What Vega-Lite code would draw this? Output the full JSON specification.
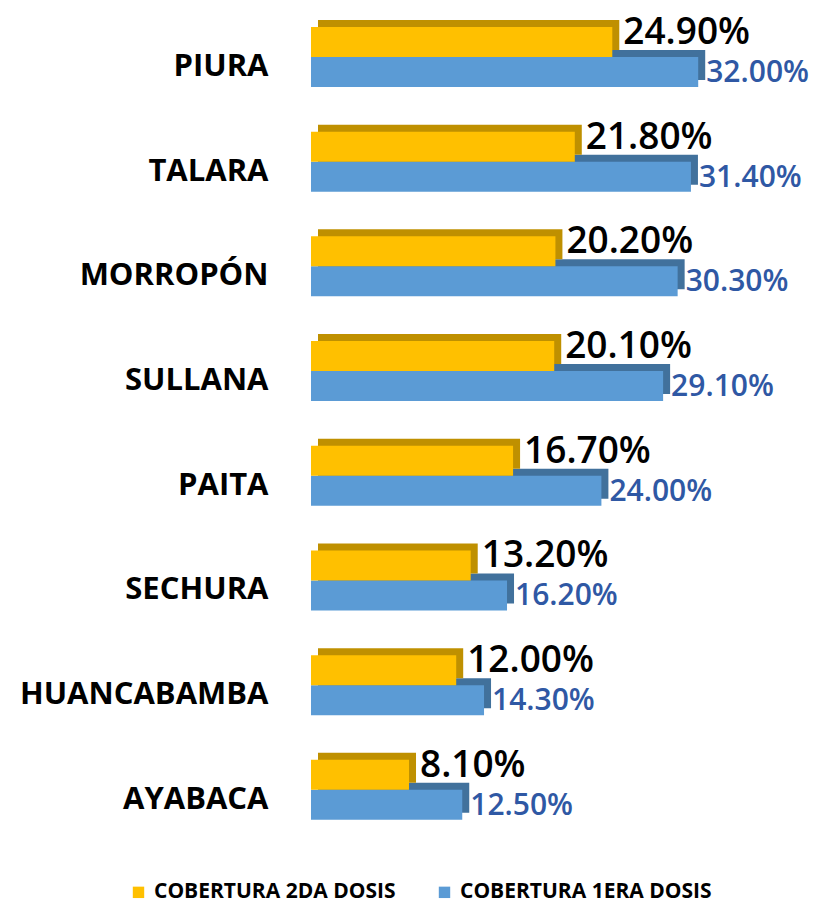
{
  "$schema": "https://vega.github.io/schema/vega-lite/v6.json",
  "autosize": {"type": "none"},
  "width": 507,
  "height": 837.6,
  "padding": {"left": 311, "top": 4.6, "right": 0, "bottom": 63.8},
  "background": "white",
  "config": {
    "view": {"stroke": null},
    "font": "Open Sans"
  },
  "data": {
    "values": [
      {"provincia": "PIURA", "serie": "COBERTURA 1ERA DOSIS", "valor": 0.32},
      {"provincia": "TALARA", "serie": "COBERTURA 1ERA DOSIS", "valor": 0.314},
      {"provincia": "MORROPÓN", "serie": "COBERTURA 1ERA DOSIS", "valor": 0.303},
      {"provincia": "SULLANA", "serie": "COBERTURA 1ERA DOSIS", "valor": 0.291},
      {"provincia": "PAITA", "serie": "COBERTURA 1ERA DOSIS", "valor": 0.24},
      {"provincia": "SECHURA", "serie": "COBERTURA 1ERA DOSIS", "valor": 0.162},
      {"provincia": "HUANCABAMBA", "serie": "COBERTURA 1ERA DOSIS", "valor": 0.143},
      {"provincia": "AYABACA", "serie": "COBERTURA 1ERA DOSIS", "valor": 0.125},
      {"provincia": "PIURA", "serie": "COBERTURA 2DA DOSIS", "valor": 0.249},
      {"provincia": "TALARA", "serie": "COBERTURA 2DA DOSIS", "valor": 0.218},
      {"provincia": "MORROPÓN", "serie": "COBERTURA 2DA DOSIS", "valor": 0.202},
      {"provincia": "SULLANA", "serie": "COBERTURA 2DA DOSIS", "valor": 0.201},
      {"provincia": "PAITA", "serie": "COBERTURA 2DA DOSIS", "valor": 0.167},
      {"provincia": "SECHURA", "serie": "COBERTURA 2DA DOSIS", "valor": 0.132},
      {"provincia": "HUANCABAMBA", "serie": "COBERTURA 2DA DOSIS", "valor": 0.12},
      {"provincia": "AYABACA", "serie": "COBERTURA 2DA DOSIS", "valor": 0.081}
    ]
  },
  "encoding": {
    "y": {
      "field": "provincia",
      "type": "nominal",
      "sort": null,
      "scale": {
        "domain": ["PIURA", "TALARA", "MORROPÓN", "SULLANA", "PAITA", "SECHURA", "HUANCABAMBA", "AYABACA"],
        "paddingInner": 0,
        "paddingOuter": 0
      },
      "axis": {
        "title": null,
        "domain": false,
        "ticks": false,
        "labelPadding": 43,
        "labelOffset": 10,
        "labelLimit": 320,
        "labelFont": "Open Sans",
        "labelFontSize": 31,
        "labelFontWeight": "bold",
        "labelColor": "#000000"
      }
    },
    "x": {
      "field": "valor",
      "type": "quantitative",
      "scale": {"domain": [0, 0.419], "nice": false},
      "axis": null
    }
  },
  "layer": [
    {
      "transform": [{"filter": "datum.serie === 'COBERTURA 1ERA DOSIS'"}],
      "mark": {"type": "bar", "height": 30, "yOffset": 8, "xOffset": 7, "x2Offset": 7, "color": "#41719C"}
    },
    {
      "transform": [{"filter": "datum.serie === 'COBERTURA 2DA DOSIS'"}],
      "mark": {"type": "bar", "height": 30, "yOffset": -22, "xOffset": 7, "x2Offset": 7, "color": "#BF9000"}
    },
    {
      "transform": [{"filter": "datum.serie === 'COBERTURA 1ERA DOSIS'"}],
      "mark": {"type": "bar", "height": 30, "yOffset": 15},
      "encoding": {
        "color": {
          "field": "serie",
          "type": "nominal",
          "scale": {"domain": ["COBERTURA 2DA DOSIS", "COBERTURA 1ERA DOSIS"], "range": ["#FFC000", "#5B9BD5"]},
          "legend": {
            "title": null,
            "orient": "none",
            "legendX": -183,
            "legendY": 877,
            "direction": "horizontal",
            "symbolType": "square",
            "symbolSize": 130,
            "symbolStrokeWidth": 0,
            "labelFont": "Open Sans",
            "labelFontSize": 21,
            "labelFontWeight": "bold",
            "labelColor": "#000000",
            "labelOffset": 5,
            "columnPadding": 38,
            "labelLimit": 400
          }
        }
      }
    },
    {
      "transform": [{"filter": "datum.serie === 'COBERTURA 2DA DOSIS'"}],
      "mark": {"type": "bar", "height": 30, "yOffset": -15},
      "encoding": {
        "color": {"field": "serie", "type": "nominal"}
      }
    },
    {
      "transform": [{"filter": "datum.serie === 'COBERTURA 1ERA DOSIS'"}],
      "mark": {"type": "text", "align": "left", "baseline": "middle", "dx": 8, "yOffset": 16, "font": "Open Sans", "fontSize": 30, "fontWeight": 600, "color": "#2F58A4"},
      "encoding": {"text": {"field": "valor", "type": "quantitative", "format": ".2%"}}
    },
    {
      "transform": [{"filter": "datum.serie === 'COBERTURA 2DA DOSIS'"}],
      "mark": {"type": "text", "align": "left", "baseline": "middle", "dx": 11, "yOffset": -24, "font": "Open Sans", "fontSize": 37, "fontWeight": 600, "color": "#000000"},
      "encoding": {"text": {"field": "valor", "type": "quantitative", "format": ".2%"}}
    }
  ]
}
